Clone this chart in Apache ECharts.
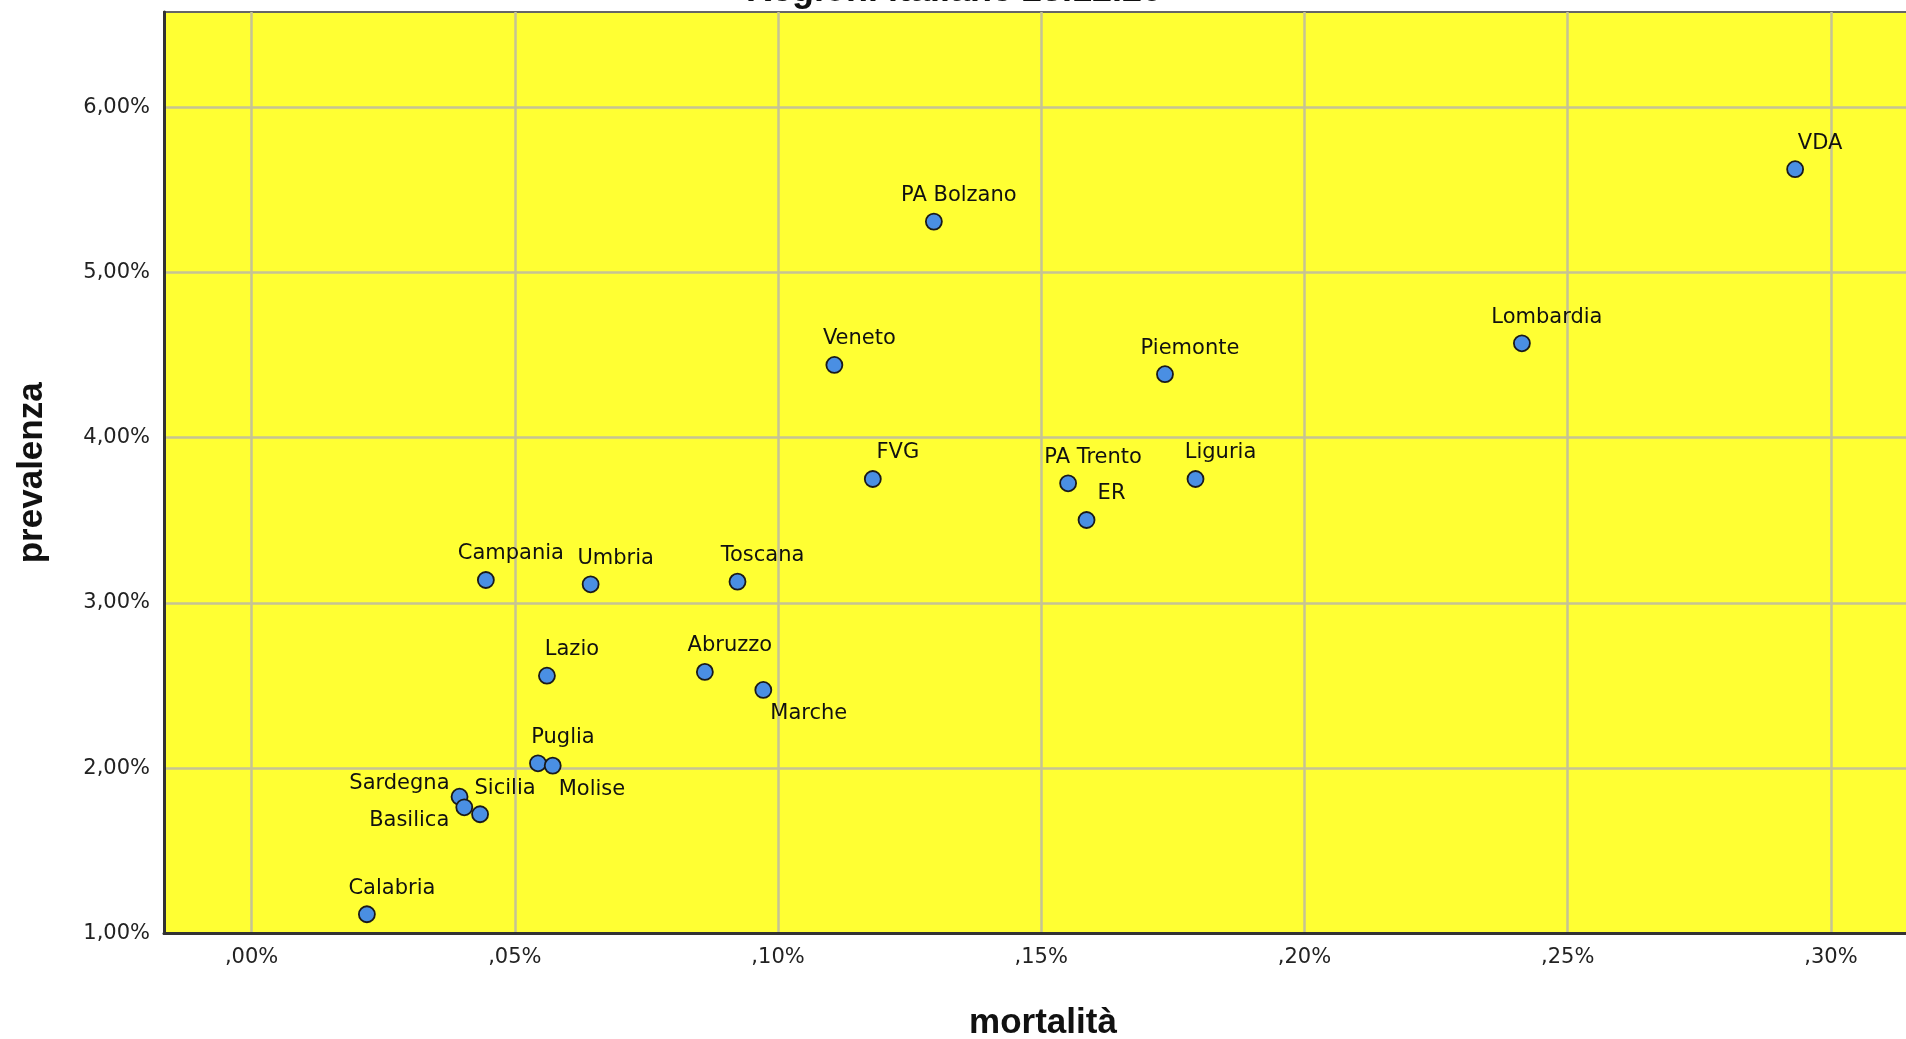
<!DOCTYPE html>
<html>
<head>
<meta charset="utf-8">
<title>prevalenza / mortalità</title>
<script src="https://cdn.jsdelivr.net/npm/echarts@6/dist/echarts.min.js"></script>
<style>
html, body { margin: 0; padding: 0; background: #fff; }
#grafico { width: 1906px; height: 1039px; }
</style>
</head>
<body>
<div id="grafico"></div>
<script>
// dati (valori in %)
var titolo = 'Regioni italiane 23.12.20';
var regioni = ['VDA', 'Lombardia', 'PA Bolzano', 'Veneto', 'Piemonte', 'FVG', 'PA Trento', 'ER', 'Liguria',
  'Campania', 'Umbria', 'Toscana', 'Lazio', 'Abruzzo', 'Marche', 'Puglia', 'Molise',
  'Sardegna', 'Basilica', 'Sicilia', 'Calabria'];
var mortalita = [0.2932, 0.2413, 0.1296, 0.1107, 0.1735, 0.1180, 0.1551, 0.1586, 0.1793,
  0.0445, 0.0644, 0.0923, 0.0561, 0.0861, 0.0972, 0.0544, 0.0572,
  0.0395, 0.0404, 0.0434, 0.0219];
var prevalenza = [5.624, 4.571, 5.307, 4.440, 4.384, 3.750, 3.724, 3.502, 3.750,
  3.139, 3.113, 3.129, 2.560, 2.583, 2.474, 2.030, 2.016,
  1.828, 1.764, 1.722, 1.117];
var tickX = [0, 0.05, 0.10, 0.15, 0.20, 0.25, 0.30];
var tickY = [1, 2, 3, 4, 5, 6];

// etichette spostate rispetto alla posizione standard
var etichetteSpeciali = {
  'Marche':   { align: 'left',  offset: [7, 24] },
  'Molise':   { align: 'left',  offset: [6, 24] },
  'Sardegna': { align: 'right', offset: [-10, -13] },
  'Basilica': { align: 'right', offset: [-15, 13] }
};

var punti = regioni.map(function (nome, i) {
  var p = { name: nome, value: [mortalita[i], prevalenza[i]] };
  if (etichetteSpeciali[nome]) p.label = etichetteSpeciali[nome];
  return p;
});

var fontTesto = '"DejaVu Sans", Arial, sans-serif';

var grafico = echarts.init(document.getElementById('grafico'));
var opzioni = {
  animation: false,
  textStyle: { fontFamily: fontTesto },
  graphic: [{
    type: 'text',
    x: 954,
    y: 9,
    style: {
      text: titolo,
      font: 'bold 36px "Liberation Sans", Arial, sans-serif',
      fill: '#111',
      textAlign: 'center',
      textVerticalAlign: 'bottom'
    }
  }],
  grid: {
    left: 164,
    top: 12,
    width: 1758,
    height: 921.6,
    outerBoundsMode: 'none',
    containLabel: false,
    show: true,
    backgroundColor: '#ffff33',
    borderColor: '#666',
    borderWidth: 2
  },
  xAxis: {
    type: 'value',
    min: -0.01664,
    max: 0.3173,
    name: 'mortalità',
    nameLocation: 'middle',
    nameGap: 72,
    nameMoveOverlap: false,
    nameTextStyle: { fontSize: 35, fontWeight: 'bold', color: '#111', fontFamily: 'Liberation Sans, Arial, sans-serif' },
    axisLine: { show: true, onZero: false, lineStyle: { color: '#333', width: 3 } },
    axisTick: { show: false, customValues: tickX },
    axisLabel: {
      customValues: tickX,
      fontSize: 21,
      color: '#222',
      margin: 13,
      formatter: function (v) {
        return ',' + String(Math.round(v * 100)).padStart(2, '0') + '%';
      }
    },
    splitLine: { show: true, lineStyle: { color: '#c6c394', width: 2.5 } }
  },
  yAxis: {
    type: 'value',
    min: 1,
    max: 6.575,
    name: 'prevalenza',
    nameLocation: 'middle',
    nameGap: 114,
    nameMoveOverlap: false,
    nameTextStyle: { fontSize: 35, fontWeight: 'bold', color: '#111', fontFamily: 'Liberation Sans, Arial, sans-serif' },
    axisLine: { show: true, onZero: false, lineStyle: { color: '#333', width: 3 } },
    axisTick: { show: false, customValues: tickY },
    axisLabel: {
      customValues: tickY,
      fontSize: 21,
      color: '#222',
      margin: 14,
      formatter: function (v) {
        return v.toFixed(2).replace('.', ',') + '%';
      }
    },
    splitLine: { show: true, lineStyle: { color: '#c6c394', width: 2.5 } }
  },
  series: [{
    type: 'scatter',
    data: punti,
    symbolSize: 16,
    itemStyle: { color: '#4a8fe3', borderColor: '#1a1a1a', borderWidth: 1.8, opacity: 1 },
    label: {
      show: true,
      position: 'inside',
      formatter: '{b}',
      offset: [25, -26],
      fontSize: 21,
      color: '#111'
    }
  }]
};
grafico.setOption(opzioni);
</script>
</body>
</html>
